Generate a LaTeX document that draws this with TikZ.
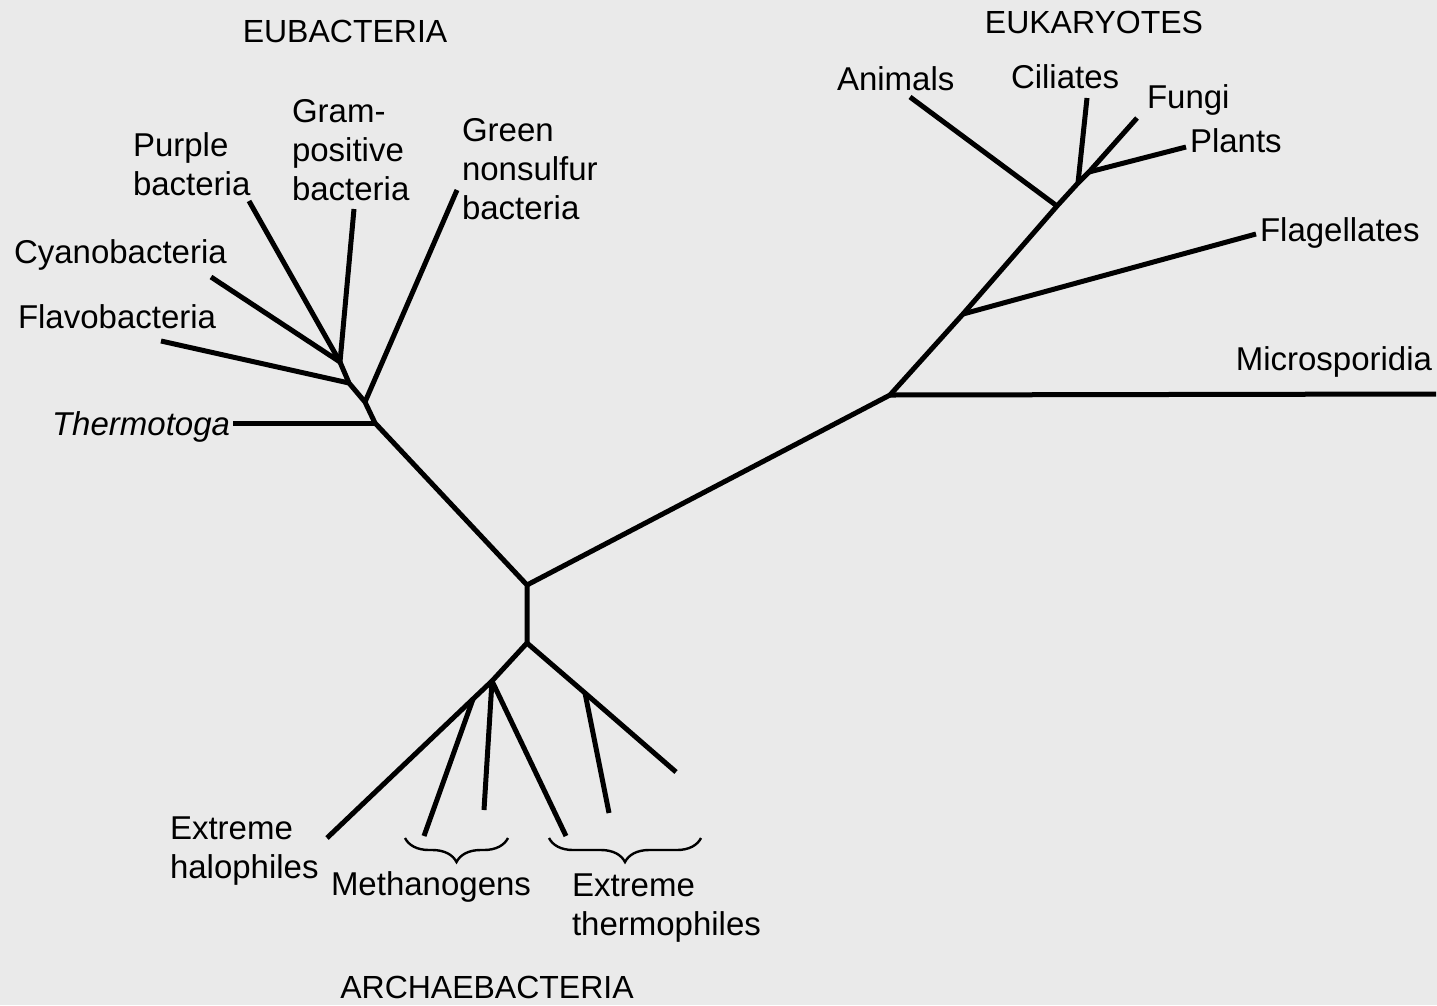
\documentclass[tikz,border=0pt]{standalone}
\usepackage{fontspec}
\setmainfont{Liberation Sans}
\usetikzlibrary{decorations.pathreplacing}
\definecolor{paper}{RGB}{234,234,234}
\tikzset{
  branch/.style={line width=5pt, line join=round, line cap=butt, black},
  lbl/.style={inner sep=0pt, outer sep=0pt, align=left, font=\fontsize{33}{39}\selectfont},
  grp/.style={inner sep=0pt, outer sep=0pt, font=\fontsize{32}{38}\selectfont},
  bracebar/.style={line width=2.4pt, decorate, decoration={brace, amplitude=24pt, aspect=0.5}},
}
\begin{document}
\begin{tikzpicture}[x=1pt,y=-1pt]
\fill[paper] (0,0) rectangle (1437,1005);
\useasboundingbox (0,0) rectangle (1437,1005);

% ---------- junctions and tips ----------
\coordinate (C1) at (527,585);
\coordinate (C2) at (527,643);
% eubacteria
\coordinate (T) at (375,423);
\coordinate (G) at (365,402);
\coordinate (F) at (349,383);
\coordinate (P) at (340,362);
\coordinate (thermoTip) at (233,423);
\coordinate (greenTip) at (457,190);
\coordinate (flavoTip) at (161,341);
\coordinate (cyanoTip) at (211,277);
\coordinate (purpleTip) at (249,201);
\coordinate (gramTip) at (354,209);
% eukaryotes
\coordinate (M) at (890,395);
\coordinate (microTip) at (1436,394);
\coordinate (Fj) at (963,314);
\coordinate (flagTip) at (1256,234);
\coordinate (Aj) at (1057,206);
\coordinate (animTip) at (910,97);
\coordinate (Cj) at (1078,183);
\coordinate (cilTip) at (1087,98);
\coordinate (Pj) at (1089,172);
\coordinate (fungiTip) at (1137,118);
\coordinate (plantTip) at (1186,147);
% archaebacteria
\coordinate (L) at (492,681);
\coordinate (Mj) at (473,699);
\coordinate (haloTip) at (327,838);
\coordinate (meth1Tip) at (424,836);
\coordinate (meth2Tip) at (484,810);
\coordinate (th1Tip) at (566,836);
\coordinate (Rj) at (585,693);
\coordinate (th2Tip) at (609,813);
\coordinate (rightTip) at (676,772);

% ---------- branches ----------
\draw[branch] (C2) -- (C1) -- (T) -- (G) -- (F) -- (P) -- (purpleTip);
\draw[branch] (P) -- (gramTip);
\draw[branch] (P) -- (cyanoTip);
\draw[branch] (F) -- (flavoTip);
\draw[branch] (G) -- (greenTip);
\draw[branch] (T) -- (thermoTip);

\draw[branch] (C1) -- (M) -- (Fj) -- (Aj) -- (Cj) -- (Pj) -- (fungiTip);
\draw[branch] (M) -- (microTip);
\draw[branch] (Fj) -- (flagTip);
\draw[branch] (Aj) -- (animTip);
\draw[branch] (Cj) -- (cilTip);
\draw[branch] (Pj) -- (plantTip);

\draw[branch] (C2) -- (L) -- (Mj) -- (haloTip);
\draw[branch] (Mj) -- (meth1Tip);
\draw[branch] (L) -- (meth2Tip);
\draw[branch] (L) -- (th1Tip);
\draw[branch] (C2) -- (Rj) -- (rightTip);
\draw[branch] (Rj) -- (th2Tip);

% ---------- braces ----------
\coordinate (mbR) at (508,838);
\coordinate (mbL) at (405,838);
\coordinate (tbR) at (701,838);
\coordinate (tbL) at (549,838);
\draw[bracebar] (mbR) -- (mbL);
\draw[bracebar] (tbR) -- (tbL);

% ---------- group titles ----------
\node[grp, anchor=base] (eub) at (345,42) {EUBACTERIA};
\node[grp, anchor=base] (euk) at (1094,33) {EUKARYOTES};
\node[grp, anchor=base] (arc) at (487,998) {ARCHAEBACTERIA};

% ---------- labels (base = baseline of the last line) ----------
\node[lbl, anchor=base west] (purple) at (133,195) {Purple\\bacteria};
\node[lbl, anchor=base west] (gram) at (292,200) {Gram-\\positive\\bacteria};
\node[lbl, anchor=base west] (green) at (462,219) {Green\\nonsulfur\\bacteria};
\node[lbl, anchor=base west] (cyano) at (14,263) {Cyanobacteria};
\node[lbl, anchor=base west] (flavo) at (18,328) {Flavobacteria};
\node[lbl, anchor=base east] (thermo) at (230,435) {\itshape Thermotoga};

\node[lbl, anchor=base west] (animals) at (837,90) {Animals};
\node[lbl, anchor=base west] (ciliates) at (1011,88) {Ciliates};
\node[lbl, anchor=base west] (fungi) at (1147,108) {Fungi};
\node[lbl, anchor=base west] (plants) at (1190,152) {Plants};
\node[lbl, anchor=base west] (flag) at (1260,241) {Flagellates};
\node[lbl, anchor=base east] (micro) at (1432,370) {Microsporidia};

\node[lbl, anchor=base west] (halo) at (170,878) {Extreme\\halophiles};
\node[lbl, anchor=base west] (meth) at (331,895) {Methanogens};
\node[lbl, anchor=base west] (therm) at (572,935) {Extreme\\thermophiles};
\end{tikzpicture}
\end{document}
